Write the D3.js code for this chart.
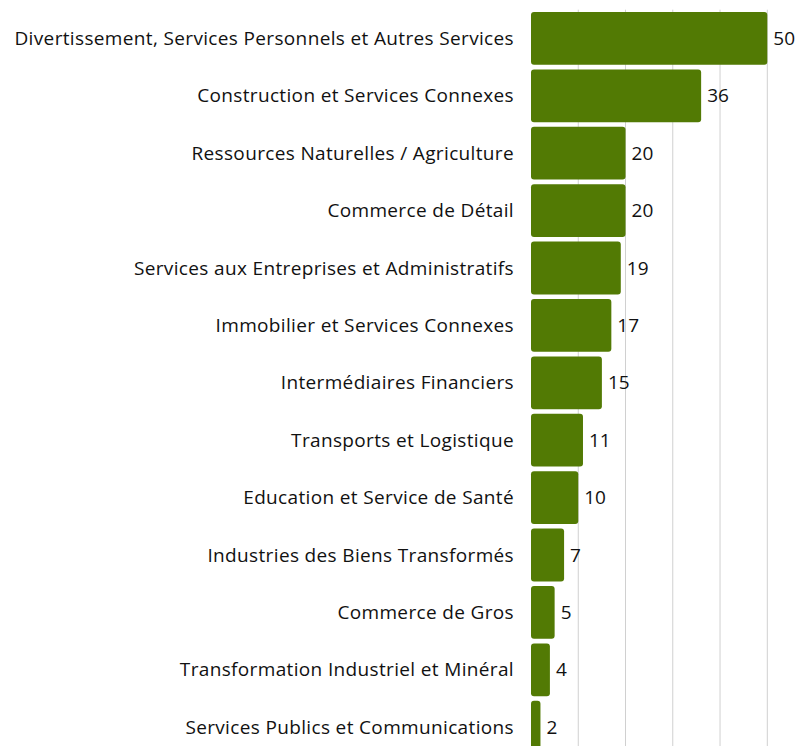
<!DOCTYPE html>
<html>
<head>
<meta charset="utf-8">
<script src="https://cdn.jsdelivr.net/npm/d3@7"></script>
<style>
  body { margin: 0; background: #fff; }
  svg { display: block; }
</style>
</head>
<body>
<div class="chart"></div>
<script>
// Secteurs et nombre d'entreprises
let sectors = [
  "Divertissement, Services Personnels et Autres Services",
  "Construction et Services Connexes",
  "Ressources Naturelles / Agriculture",
  "Commerce de Détail",
  "Services aux Entreprises et Administratifs",
  "Immobilier et Services Connexes",
  "Intermédiaires Financiers",
  "Transports et Logistique",
  "Education et Service de Santé",
  "Industries des Biens Transformés",
  "Commerce de Gros",
  "Transformation Industriel et Minéral",
  "Services Publics et Communications"
];
let counts = [50, 36, 20, 20, 19, 17, 15, 11, 10, 7, 5, 4, 2];
let gridTicks = [0, 10, 20, 30, 40, 50];

let width = 799, height = 746;
let x0 = 531, x1 = 767.3;
let plotTop = 9.7, step = 57.4;
let font = '"Open Sans", Lato, sans-serif';

let svg = d3.select('.chart')
  .append('svg')
  .attr('width', width)
  .attr('height', height);

let xScale = d3.scaleLinear()
  .domain([0, 50])
  .range([x0, x1]);

let yScale = d3.scaleBand()
  .domain(sectors)
  .range([plotTop, plotTop + step * sectors.length])
  .paddingInner(0.08)
  .paddingOuter(0.04);

// vertical gridlines (behind bars)
svg.append('g')
  .selectAll('line')
  .data(gridTicks.slice(1))
  .enter()
  .append('line')
  .attr('x1', d => xScale(d))
  .attr('x2', d => xScale(d))
  .attr('y1', plotTop)
  .attr('y2', height)
  .style('stroke', '#d0d0d0')
  .style('stroke-width', 1);

// bars
svg.append('g')
  .selectAll('rect')
  .data(counts)
  .enter()
  .append('rect')
  .attr('x', xScale(0))
  .attr('y', (d, i) => yScale(sectors[i]))
  .attr('width', d => xScale(d) - xScale(0))
  .attr('height', yScale.bandwidth())
  .attr('rx', 3)
  .style('fill', '#527a04');

// category labels
svg.append('g')
  .selectAll('text')
  .data(sectors)
  .enter()
  .append('text')
  .attr('x', xScale(0) - 17)
  .attr('y', d => yScale(d) + yScale.bandwidth() / 2)
  .attr('dy', '0.35em')
  .style('text-anchor', 'end')
  .style('font-family', font)
  .style('font-size', '19px')
  .style('letter-spacing', '0.35px')
  .style('fill', '#111')
  .text(d => d);

// value labels
svg.append('g')
  .selectAll('text')
  .data(counts)
  .enter()
  .append('text')
  .attr('x', d => xScale(d) + 6)
  .attr('y', (d, i) => yScale(sectors[i]) + yScale.bandwidth() / 2)
  .attr('dy', '0.35em')
  .style('font-family', font)
  .style('font-size', '19px')
  .style('fill', '#111')
  .text(d => d);
</script>
</body>
</html>
